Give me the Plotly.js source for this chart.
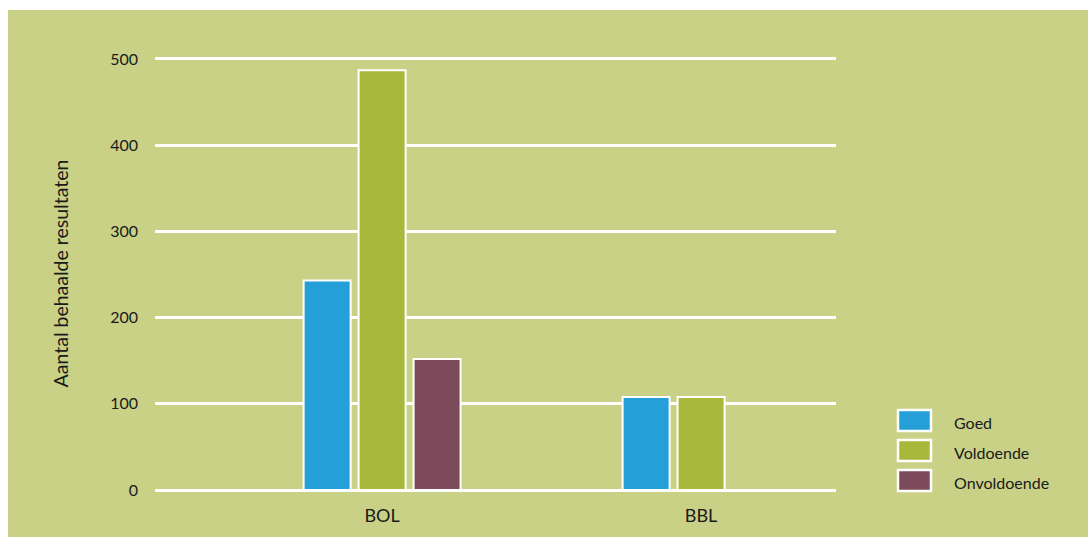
<!DOCTYPE html>
<html>
<head>
<meta charset="utf-8">
<script src="https://cdn.plot.ly/plotly-3.0.1.min.js"></script>
<style>
  html, body { margin: 0; padding: 0; background: #ffffff; width: 1088px; height: 537px; overflow: hidden; }
  #chart { position: absolute; left: 8px; top: 10px; width: 1080px; height: 527px; }
</style>
</head>
<body>
<div id="chart"></div>
<script>
const categories = ["BOL", "BBL"];
const seriesNames = ["Goed", "Voldoende", "Onvoldoende"];
const seriesColors = ["#259fd8", "#a6b93a", "#7d4a5c"];
const goed = [243, 108];
const voldoende = [487, 108];
const onvoldoende = [152, 0];
const yTicks = [0, 100, 200, 300, 400, 500];

const values = [goed, voldoende, onvoldoende];
const traces = values.map((v, i) => ({
  type: "bar",
  name: seriesNames[i],
  x: categories,
  y: v,
  marker: { color: seriesColors[i], line: { color: "#ffffff", width: 2 } },
  showlegend: false,
  hoverinfo: "x+y+name"
}));

const W = 681, H = 433, BOTTOM = 480, LEFT = 147;
const shapes = [];
const annotations = [];
seriesNames.forEach((n, i) => {
  const top = 399 + i * 30;
  shapes.push({
    type: "rect", xref: "paper", yref: "paper",
    x0: (890 - LEFT) / W, x1: (923 - LEFT) / W,
    y0: (BOTTOM - (top + 22)) / H, y1: (BOTTOM - (top + 1)) / H,
    fillcolor: seriesColors[i], line: { color: "#ffffff", width: 2.5 }
  });
  annotations.push({
    xref: "paper", yref: "paper",
    x: (944 - LEFT) / W, y: (BOTTOM - (top + 13)) / H,
    xanchor: "left", yanchor: "middle",
    text: n, showarrow: false,
    font: { family: "Lato, sans-serif", size: 16, color: "#1a1a1a" }
  });
});

const layout = {
  width: 1080, height: 527,
  margin: { l: 147, r: 252, t: 47, b: 47 },
  paper_bgcolor: "#c9d186",
  plot_bgcolor: "#c9d186",
  font: { family: "Lato, sans-serif", size: 17, color: "#1a1a1a" },
  barmode: "group",
  bargap: 0.483,
  bargroupgap: 0.145,
  xaxis: {
    type: "category",
    range: [-0.712, 1.423],
    showgrid: false, zeroline: false, showline: false,
    ticks: "", ticklabelstandoff: 13,
    tickfont: { size: 18 }
  },
  yaxis: {
    range: [0, 502.3],
    tickvals: yTicks,
    showgrid: true, gridcolor: "#ffffff", gridwidth: 3,
    zeroline: true, zerolinecolor: "#ffffff", zerolinewidth: 3,
    showline: false, ticks: "", ticklabelstandoff: 16,
    tickfont: { size: 16 },
    title: { text: "Aantal behaalde resultaten", font: { size: 19.5 }, standoff: 36 }
  },
  shapes: shapes,
  annotations: annotations,
  showlegend: false
};

Plotly.newPlot("chart", traces, layout, { displayModeBar: false, staticPlot: true });
</script>
</body>
</html>
